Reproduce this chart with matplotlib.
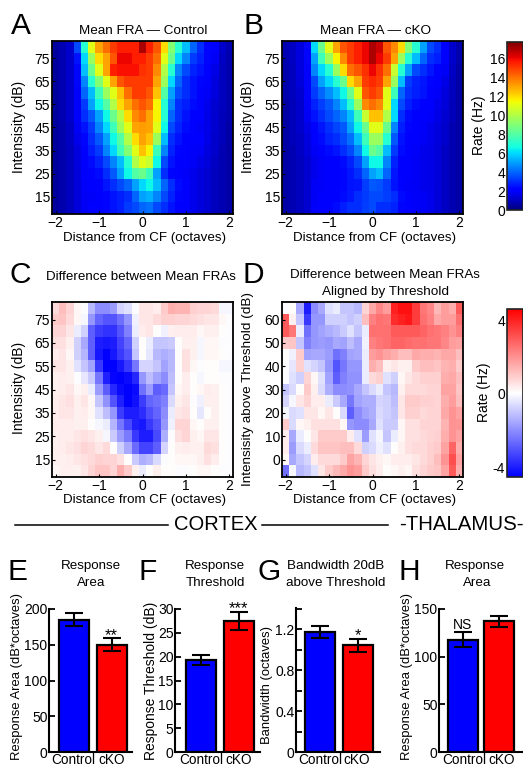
import numpy as np
import matplotlib
matplotlib.use('Agg')
import matplotlib.pyplot as plt
from matplotlib.colors import LinearSegmentedColormap

plt.rcParams['font.family'] = ['Liberation Sans', 'DejaVu Sans']

W, H = 523, 765
octaves = np.arange(-12, 13) / 6
intensity = np.arange(10, 85, 5)
above_threshold = np.arange(-5, 70, 5)

# rows run from the highest intensity down to the lowest
fra_control = [
 [.5,.8,1.2,3.5,7,11,13,14,15,15.5,15.5,15.5,17,15.5,14.5,12,9,7,5.5,4,3,2.3,2,1.2,.8],
 [.5,.8,1.2,2.5,6,9.5,12,13,14.5,16,16,15.5,15.5,15,14,11,8.5,6,4.5,3.2,2.8,2.3,1.8,1.1,.7],
 [.5,.8,1.2,2.3,5.5,8.5,11,13,15.5,15.8,15.8,15.8,15.2,15,13.5,10,7,4.5,3.5,2.8,2.5,2,1.6,1,.7],
 [.5,.8,1.2,2.3,4.5,7,9,11,13,14.5,15,15,15,15,13,9.5,6,4,3,2.5,2.3,2,1.5,1,.7],
 [.5,.8,1.2,2.2,4,5.5,7.5,9.5,11,12.5,14,15,15,14.5,12.5,8,5,3.5,3,2.5,2.2,1.8,1.5,1,.7],
 [.5,.8,1.2,2,3.2,5,6.5,8,10,12,13,14,14.5,14,11.5,7,4.5,3,2.7,2.4,2,1.7,1.3,1,.7],
 [.5,.8,1.2,2,3,3.8,5,6.5,8.5,10,12,13.5,14,13,11.5,7,4,3,2.5,2.2,2,1.6,1.3,.9,.7],
 [.5,.7,1.1,1.8,2.5,3.2,4.5,6,7.5,9.5,11,13,13.2,13,11,6.5,3.5,2.8,2.4,2,1.8,1.6,1.3,.9,.6],
 [.5,.7,1.1,1.7,2.3,3,3.8,5,6.5,8,10,12,13,12.5,9.5,5.5,3,2.5,2.2,2,2,1.6,1.2,.9,.6],
 [.5,.7,1,1.5,2.2,2.7,3.2,4.5,6,7.5,9,11,12.5,11.5,7.5,4.5,2.8,2.3,2.1,1.9,1.8,1.5,1.2,.8,.6],
 [.5,.7,1,1.5,2,2.4,2.8,3.5,4.5,5.5,7,10,11,10.5,6.5,3.5,2.5,2.1,2,1.8,1.6,1.4,1.1,.8,.6],
 [.5,.7,1,1.4,2,2.2,2.4,3,3.8,5,6.5,8,8.5,7.5,5,3,2.3,2.1,1.9,1.7,1.5,1.3,1,.8,.6],
 [.5,.7,1,1.4,1.9,2,2.2,2.6,3,3.5,4,5,6,6.5,5.5,4,3,2.4,2,1.7,1.5,1.3,1,.8,.6],
 [.5,.7,1,1.4,1.8,1.9,2,2.3,2.5,2.7,3,4,5,5.3,4.5,3.5,2.8,2.3,2,1.7,1.5,1.3,1,.8,.6],
 [.5,.7,1,1.4,1.8,2,2,2.3,2.5,2.7,3.2,3.5,4,4.2,3.5,3,2.5,2.2,2,1.7,1.5,1.3,1,.8,.6],
]
fra_ckko = [
 [.8,1.1,1.5,2.3,6,8.5,11,13,14.5,15,15.5,16,17,16.5,14.5,13.5,12,9,7,5,3.5,3,2.2,1.2,.7],
 [.8,1.1,1.5,2.3,5,7.5,9.5,11.5,13.5,15,15.5,16,17,16,15,13,9.5,7,5.5,4,3,2.7,2,1.2,.7],
 [.7,1,1.5,2.2,4.5,6,7,9.5,12,14,14.5,15.2,16,15.2,14,10.5,7,5,3.5,3,2.6,2.2,1.8,1.1,.6],
 [.7,1,1.4,2.1,3.5,5,6,7,8.5,12,13,15,15.3,15,13,9.5,5.5,3.2,2.8,2.6,2.3,2,1.6,1,.6],
 [.7,1,1.3,2,3.2,4,4.7,5.5,6.5,8.5,11,14.5,15,14.5,11,7.5,4,3,2.7,2.5,2.2,1.9,1.5,1,.6],
 [.6,.9,1.2,1.9,2.8,3.3,3.8,4.5,5.5,7,9.5,13.5,14,13.5,11,6,3.5,2.7,2.4,2.2,2,1.7,1.4,.9,.6],
 [.6,.9,1.2,1.8,2.5,3,3.5,4,4.5,5.5,7.5,10.5,12.5,12.5,10,6,3,2.4,2.2,2,1.9,1.6,1.3,.9,.6],
 [.6,.9,1.2,1.6,2.2,2.6,3,3.4,3.8,5,6.5,8.5,11,11,8.5,4.5,2.7,2.3,2.1,1.9,1.7,1.5,1.2,.8,.6],
 [.6,.9,1.1,1.5,2,2.4,2.8,3,3.5,4.2,5.5,7.5,9.5,9.5,7,3.8,2.5,2.2,2,1.8,1.7,1.5,1.2,.8,.6],
 [.6,.8,1.1,1.4,1.8,2.1,2.4,2.6,3,3.5,4.5,6.5,8.5,8,5.5,3.2,2.4,2.1,1.9,1.7,1.6,1.4,1.1,.8,.6],
 [.6,.8,1,1.3,1.7,1.9,2,2.2,2.4,2.8,3.5,5,6.5,6.5,4.5,2.8,2.2,2,1.8,1.7,1.6,1.4,1.1,.8,.6],
 [.6,.8,1,1.3,1.7,1.9,2.1,2.2,2.3,2.6,3,4,5,5.5,4,2.6,2.2,2,1.8,1.7,1.6,1.4,1.1,.8,.6],
 [.6,.8,1,1.3,1.8,1.9,2,2.2,2.3,2.5,2.6,3.3,3.8,3.6,3.2,2.5,2.1,1.9,1.8,1.7,1.6,1.4,1.1,.8,.6],
 [.6,.8,1,1.3,1.8,2,2.1,2.2,2.4,2.6,3,3.2,3.5,3.5,3.3,3,2.4,2,1.9,1.8,1.7,1.4,1.1,.8,.6],
 [.6,.8,1,1.3,1.9,2.1,2.2,2.4,2.7,3,3,3.3,3.5,3,3,2.8,2.3,2,1.9,1.8,1.7,1.4,1.1,.8,.6],
]
diff_cortex = [
 [.7,1.2,.8,.2,0,-1.2,-2,-2,-1.7,-.7,-.5,0,.5,.5,.4,1,1.5,1.4,1.4,.9,.8,.8,.7,-.1,-.1],
 [1,1.1,.7,.2,-.1,-1.8,-2.7,-3,-3,-2.5,-1.8,-.2,.5,.5,.7,.9,.9,.8,.8,.7,.6,.5,.5,.2,0],
 [.8,.8,.5,-.3,-.8,-2.8,-3.4,-3.6,-3.6,-3,-2.2,-.3,.4,.5,.1,-.2,.3,.4,.4,.4,.2,.3,.3,.1,0],
 [.6,.6,.3,-.8,-1.5,-2.8,-4,-4.1,-4,-3.3,-2.7,-.8,.1,-.3,-1,-1,-.9,.1,.3,.3,-.1,.2,.2,0,0],
 [.4,.5,.2,-.8,-1.3,-2.8,-4.1,-4.5,-4.1,-3.5,-3,-1,.1,-.4,-1.2,-1.4,-1.2,.1,.6,.3,-.1,.2,.2,.1,0],
 [.5,.5,.3,-.5,-1,-1.6,-3.5,-4.5,-4.5,-4.1,-3.5,-2.4,-.7,-.7,-1,-1.6,-1.2,.1,.6,.2,0,.1,.1,-.1,-.1],
 [.3,.4,.3,0,-.4,-.9,-2.4,-3.9,-4.4,-4.5,-4.3,-3.8,-1.8,-1.1,-1.6,-2,-1.1,.1,.4,.1,-.1,.1,.1,0,0],
 [.3,.4,.5,.2,.3,-.3,-1.7,-2.8,-3.8,-4.3,-4.5,-4.3,-2.5,-1.7,-2.8,-2.6,-1,.2,.4,.1,.2,.4,.3,.1,0],
 [.4,.5,.6,.3,.5,.2,-1,-1.9,-3,-3.9,-4.5,-4.2,-3.4,-2.7,-2.5,-2.2,-.6,.3,.5,0,-.2,.3,.3,.1,0],
 [.4,.5,.5,.3,.4,.2,-.5,-1.1,-1.8,-3.4,-4,-4,-3.7,-3.1,-2.7,-2,-.3,.5,.6,.1,-.4,.1,.3,.1,0],
 [.4,.4,.4,.3,.3,.1,-.1,-.3,-1.3,-2.4,-3.2,-3.9,-4.1,-3.5,-3,-1.8,-.2,.8,.8,.2,.1,.3,.3,.1,0],
 [.3,.4,.4,.5,.6,.5,.3,-.1,-.9,-1.7,-2.3,-3.5,-4,-4,-3.2,-1.4,0,.6,.8,.3,.2,.5,.5,.1,0],
 [.3,.4,.5,.6,.8,.7,.5,.7,.1,-.8,-1.5,-2.6,-3.3,-3.3,-2.8,-.7,.1,.3,.4,.3,.3,.7,.6,.1,0],
 [.3,.3,.4,.5,.6,.7,.9,.8,.8,.6,.1,-.9,-1.4,-1.2,-.6,0,.1,.2,.2,.2,.3,.6,.4,.1,0],
 [.2,.3,.3,.3,.5,.8,1.1,1.1,.8,1.5,1,.3,-.3,.1,.3,.1,.1,0,0,.1,.2,.2,.1,0,0],
]
diff_aligned = [
 [0,.1,-1.5,-4,-2,-1.5,-.5,-.3,-1,-1,-1.2,.8,1.6,2.2,1.8,4,4.3,4.3,3.5,2.5,2.2,1.3,1.8,1.5,3],
 [3,.3,-1,-3.5,-1.8,-1.8,-.8,-.8,-.8,-1,-.8,1.2,2.3,2.6,2.5,3.8,4,4.2,3.5,2.6,2.3,1.6,1.8,1.8,2.6],
 [3,2.5,-.3,-2.5,-1.8,-1.6,-1.4,-1.2,-.9,-.5,-1,-.3,2.6,2.6,2.6,3,3,3,3,2.8,2.6,2.5,2.3,2,2.3],
 [1,1.1,-1,-2.2,-1.8,-1.7,-1.8,-1.5,-1.6,-1.1,-1.5,-.2,2.3,2.5,2.6,2.8,2.8,2.7,2.6,2.6,2.5,2.5,2.2,1.8,1.7],
 [.1,-.2,1,-1.6,-1.5,-1.5,-1.7,-2.5,-2.2,-1.6,-1.5,-.3,1.8,2,1.7,1.5,1.2,1.2,1.6,1.5,1.5,1.4,1.6,1.6,1.2],
 [0,-.4,.9,-.5,-.7,-1,-1.8,-3,-2.4,-1.8,-1.8,-.3,1.5,1.2,.3,.5,.3,.3,1,1.2,1.2,1.1,1.4,1.5,1],
 [0,-.5,-.8,.8,.2,-.5,-1.6,-2.8,-2.2,-1.9,-1.9,-.3,.7,.9,-.5,-.8,.2,.5,.7,.9,.9,.9,1.5,1.6,1.2],
 [-1,-.6,.1,1,.3,-.6,-1.4,-2,-2,-1.9,-1.5,-1,-.6,-.3,-1,-1.2,.3,.7,.7,.7,.8,.8,1.7,1.7,1.1],
 [-.7,-.1,.5,.8,.4,.4,-.3,-.9,-1.5,-2.4,-1.6,-1.4,-1.4,-.7,-.8,-1.1,.5,1,1,.9,.9,.8,1.5,1.8,1.2],
 [-.1,-.6,-.5,.5,.5,.2,.5,.1,-.6,-2.8,-2,-1.6,-1.4,-.6,-.8,-1,.5,.9,.9,.7,.8,.8,1.6,2,1.7],
 [1,-.6,.2,.3,.6,.6,.6,.6,.2,-1.8,-2,-2,-1.5,-.5,-.9,-.9,.2,.6,.6,.8,.8,.8,1.4,2,1.9],
 [.4,-1.5,-.3,.1,.5,1,1,1,1,.4,-.5,-1.7,-.5,-.1,-1,-.3,.2,.6,.6,.7,.8,.9,1.5,2,1.7],
 [.4,-1.7,-.6,-.3,.7,1.1,1.1,1.1,1.2,1.2,.7,-.8,-.6,-.2,-.5,.1,.3,.6,.7,.7,.9,1,1.7,2.8,1.5],
 [.2,-1.5,-1,-.7,.4,.7,.7,.7,1,1.7,1.4,.8,.5,.3,.2,.4,.4,.4,.5,.7,.9,1.2,2,3.2,1.7],
 [-2.5,-.1,-1.2,-1,-.5,.5,1,1.3,1.6,2,1.8,1,.6,.4,.1,.2,.3,.2,.6,.8,1,1.1,1.7,3,1.5],
]

groups = ['Control', 'cKO']
area_cortex = [185, 150]
area_cortex_err = [9, 9]
threshold = [19.3, 27.5]
threshold_err = [1.1, 1.9]
bandwidth = [1.17, 1.04]
bandwidth_err = [.055, .06]
area_thalamus = [118, 137]
area_thalamus_err = [8, 6]

fig = plt.figure(figsize=(W / 100, H / 100), dpi=100)

def box(l, t, r, b):
    return fig.add_axes([l / W, 1 - b / H, (r - l) / W, (b - t) / H])

def txt(x, y, s, size=10, rot=0, ha='center', va='center'):
    fig.text(x / W, 1 - y / H, s, fontsize=size, rotation=rot, ha=ha, va=va, color='black')

def heat(pos, data, rows, cmap, vmin, vmax, yticks):
    ax = box(*pos)
    m = ax.pcolormesh(octaves, rows, np.array(data)[::-1], cmap=cmap, vmin=vmin, vmax=vmax,
                      shading='nearest', rasterized=True)
    ax.set_xlim(-2.083, 2.083)
    ax.set_xticks([-2, -1, 0, 1, 2])
    ax.set_yticks(yticks)
    ax.tick_params(labelsize=10, length=2, width=.8, pad=1.5, direction='in', colors='black')
    for s in ax.spines.values():
        s.set_linewidth(1.3)
    return m

ticks_db = [15, 25, 35, 45, 55, 65, 75]
ticks_thr = [0, 10, 20, 30, 40, 50, 60]
diff_cmap = LinearSegmentedColormap.from_list('bwr2', ['#0000ff', '#ffffff', '#ff0000'])

m1 = heat((52, 41, 233, 214), fra_control, intensity, 'jet', 0, 17.7, ticks_db)
heat((282, 41, 463, 214), fra_ckko, intensity, 'jet', 0, 17.7, ticks_db)
m2 = heat((52, 302, 233, 477), diff_cortex, intensity, diff_cmap, -4.5, 4.6, ticks_db)
heat((282, 302, 463, 477), diff_aligned, above_threshold, diff_cmap, -4.5, 4.6, ticks_thr)

XL = 'Distance from CF (octaves)'
txt(145, 238, XL, size=9.6)
txt(375, 238, XL, size=9.6)
txt(145, 500.5, XL, size=9.6)
txt(375, 500.5, XL, size=9.6)
txt(19, 127, 'Intensisity (dB)', size=10, rot=90)
txt(248, 127, 'Intensisity (dB)', size=10, rot=90)
txt(19, 388, 'Intensisity (dB)', size=10, rot=90)
txt(248, 389, 'Intensisity above Threshold (dB)', size=9.7, rot=90)

cax1 = box(507, 42, 523, 210)
cb1 = fig.colorbar(m1, cax=cax1)
cb1.set_ticks(range(0, 17, 2))
cax2 = box(507, 309, 523, 477)
cb2 = fig.colorbar(m2, cax=cax2)
cb2.set_ticks([-4, 0, 4])
cb2.set_ticklabels(['-4', '0', '4'])
for c, cb in ((cax1, cb1), (cax2, cb2)):
    c.yaxis.set_ticks_position('left')
    c.yaxis.set_label_position('left')
    c.tick_params(labelsize=10, length=0, pad=1.5)
    cb.outline.set_edgecolor('#222222')
    cb.outline.set_linewidth(1.2)
txt(479, 125, 'Rate (Hz)', size=10, rot=90)
txt(484, 392, 'Rate (Hz)', size=10, rot=90)

txt(143, 31, 'Mean FRA — Control', size=9.7)
txt(376, 31, 'Mean FRA — cKO', size=9.7)
txt(141, 276.5, 'Difference between Mean FRAs', size=9.6)
txt(385, 275, 'Difference between Mean FRAs', size=9.6)
txt(385, 292, 'Aligned by Threshold', size=9.7)

for x, y, s in [(21, 34, 'A'), (253, 34, 'B'), (20, 283, 'C'), (253, 283, 'D'),
                (18, 580, 'E'), (147.5, 580, 'F'), (269, 580, 'G'), (409, 580, 'H')]:
    txt(x, y, s, size=21.5, va='baseline')

fig.add_artist(plt.Line2D([15 / W, 168 / W], [1 - 525 / H] * 2, color='black', lw=1.1))
fig.add_artist(plt.Line2D([262 / W, 388 / W], [1 - 525 / H] * 2, color='black', lw=1.1))
txt(216, 525, 'CORTEX', size=14.5)
txt(461, 525, '-THALAMUS-', size=14.7)

def bars(left, c1, c2, right, top, vals, errs, ymax, yticks, labels, ylab, ylab_x, ylab_y, ylab_size,
         star, star_xy, lab1, lab2):
    ax = box(left, top, right, 752)
    unit = c2 - c1
    ax.bar([1, 2], vals, width=30 / unit, color=['#0000ff', '#ff0000'], edgecolor='black', linewidth=1.6)
    ax.errorbar([1, 2], vals, yerr=errs, fmt='none', ecolor='black', elinewidth=1.5, capsize=6.5, capthick=1.5)
    ax.set_xlim(1 - (c1 - left) / unit, 2 + (right - c2) / unit)
    ax.set_ylim(0, ymax)
    ax.set_yticks(yticks)
    ax.set_yticklabels(labels)
    ax.set_xticks([])
    ax.tick_params(axis='y', direction='in', length=4, width=1.3, labelsize=10, pad=1)
    ax.spines[['top', 'right']].set_visible(False)
    ax.spines[['left', 'bottom']].set_linewidth(1.5)
    txt(lab1, 764.5, groups[0], size=9.8, va='baseline')
    txt(lab2, 764.5, groups[1], size=9.8, va='baseline')
    txt(ylab_x, ylab_y, ylab, size=ylab_size, rot=90)
    txt(star_xy[0], star_xy[1], star, size=10 if star == 'NS' else 12)

bars(49, 74, 112, 132, 609, area_cortex, area_cortex_err, 200, [0, 50, 100, 150, 200],
     ['0', '50', '100', '150', '200'], 'Response Area (dB*octaves)', 17, 677, 9.4, '**', (111, 636), 73, 112)
bars(175, 200.5, 238.5, 260, 609, threshold, threshold_err, 30, [0, 5, 10, 15, 20, 25, 30],
     ['0', '5', '10', '15', '20', '25', '30'], 'Response Threshold (dB)', 151, 681, 10, '***', (238, 609), 201, 239)
bars(296, 320, 358, 380, 608, bandwidth, bandwidth_err, 1.405, np.arange(0, 1.41, .2),
     ['0', '', '0.4', '', '0.8', '', '1.2', ''], 'Bandwidth (octaves)', 267, 685, 9.4, '*', (358, 636), 320, 357)
bars(439, 462.5, 499, 523, 609, area_thalamus, area_thalamus_err, 150, [0, 50, 100, 150],
     ['0', '50', '100', '150'], 'Response Area (dB*octaves)', 407, 677, 9.4, 'NS', (462, 625), 464, 502)

txt(91, 566, 'Response', size=9.6)
txt(91, 583, 'Area', size=9.6)
txt(215, 566, 'Response', size=9.6)
txt(215, 583, 'Threshold', size=9.6)
txt(336, 566, 'Bandwidth 20dB', size=9.6)
txt(336, 583, 'above Threshold', size=9.6)
txt(475, 566, 'Response', size=9.6)
txt(477, 583, 'Area', size=9.6)

fig.savefig('out.png', dpi=100)
